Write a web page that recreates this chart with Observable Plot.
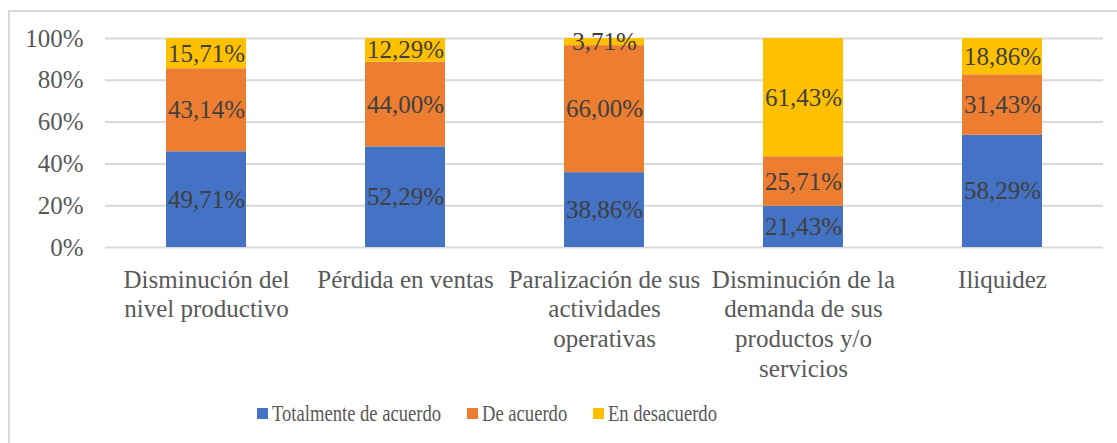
<!DOCTYPE html>
<html>
<head>
<meta charset="utf-8">
<script src="https://cdn.jsdelivr.net/npm/d3@7"></script>
<script src="https://cdn.jsdelivr.net/npm/@observablehq/plot@0.6"></script>
<style>
  html, body { margin: 0; padding: 0; background: #fff; }
  body { width: 1117px; height: 443px; overflow: hidden; position: relative; font-family: 'Liberation Serif', serif; }
  #frame { position: absolute; left: 8px; top: 10px; width: 1200px; height: 500px; border: 2px solid #d9d9d9; box-sizing: border-box; }
  #chart { position: absolute; left: 0; top: 0; }
  #legend { position: absolute; left: 257px; top: 396px; height: 34px; display: flex; align-items: center; }
  .item { display: flex; align-items: center; }
  .sw { width: 11px; height: 11px; margin-right: 4px; }
  .lbl { font-family: 'Liberation Serif', serif; font-size: 24px; color: #595959; display: inline-block; transform: scaleX(0.775); transform-origin: left center; white-space: nowrap; }
</style>
</head>
<body>
<div id="frame"></div>
<div id="chart"></div>
<div id="legend"></div>
<script>
const categories = [
  "Disminución del\nnivel productivo",
  "Pérdida en ventas",
  "Paralización de sus\nactividades\noperativas",
  "Disminución de la\ndemanda de sus\nproductos y/o\nservicios",
  "Iliquidez"
];
const series = ["Totalmente de acuerdo", "De acuerdo", "En desacuerdo"];
const colors = ["#4472C4", "#ED7D31", "#FFC000"];
const totalmenteDeAcuerdo = [49.71, 52.29, 38.86, 21.43, 58.29];
const deAcuerdo = [43.14, 44.00, 66.00, 25.71, 31.43];
const enDesacuerdo = [15.71, 12.29, 3.71, 61.43, 18.86];
const yTicks = [0, 0.2, 0.4, 0.6, 0.8, 1.0];

const FONT = "'Liberation Serif', serif";
const SCALE_X = 0.775;
const seriesValues = [totalmenteDeAcuerdo, deAcuerdo, enDesacuerdo];
const table = [];
series.forEach((s, i) => {
  categories.forEach((c, j) => {
    table.push({cat: c, serie: s, value: seriesValues[i][j]});
  });
});
const fmt = v => v.toFixed(2).replace(".", ",") + "%";

const chart = Plot.plot({
  width: 1117,
  height: 385,
  marginLeft: 105,
  marginRight: 14,
  marginTop: 38,
  marginBottom: 138,
  style: {fontFamily: FONT, fontSize: "25px", background: "transparent", color: "#595959"},
  x: {domain: categories, paddingInner: 0.6, paddingOuter: 0.3, label: null},
  y: {domain: [0, 1], label: null},
  color: {domain: series, range: colors},
  marks: [
    Plot.gridY(yTicks, {stroke: "#d9d9d9", strokeOpacity: 1, strokeWidth: 2}),
    Plot.barY(table, Plot.stackY({offset: "normalize", x: "cat", y: "value", fill: "serie"})),
    Plot.text(table, Plot.stackY({offset: "normalize", x: "cat", y: "value", text: d => fmt(d.value), fill: "#404040", fontSize: 25, fontFamily: FONT})),
    Plot.axisX({tickSize: 0, tickPadding: 19, fontSize: 25, fontFamily: FONT, lineHeight: 1.19, color: "#595959", label: null}),
    Plot.axisY(yTicks, {tickSize: 0, tickPadding: 22, fontSize: 25, fontFamily: FONT, color: "#595959", tickFormat: d => Math.round(d * 100) + "%", label: null})
  ]
});
document.getElementById("chart").appendChild(chart);

const legend = document.getElementById("legend");
series.forEach((s, i) => {
  const item = document.createElement("div");
  item.className = "item";
  const sw = document.createElement("span");
  sw.className = "sw";
  sw.style.background = colors[i];
  const lbl = document.createElement("span");
  lbl.className = "lbl";
  lbl.textContent = s;
  item.appendChild(sw);
  item.appendChild(lbl);
  legend.appendChild(item);
  const w = lbl.offsetWidth;
  lbl.style.marginRight = (-(w * (1 - SCALE_X)) + (i < series.length - 1 ? 26 : 0)) + "px";
});
</script>
</body>
</html>
